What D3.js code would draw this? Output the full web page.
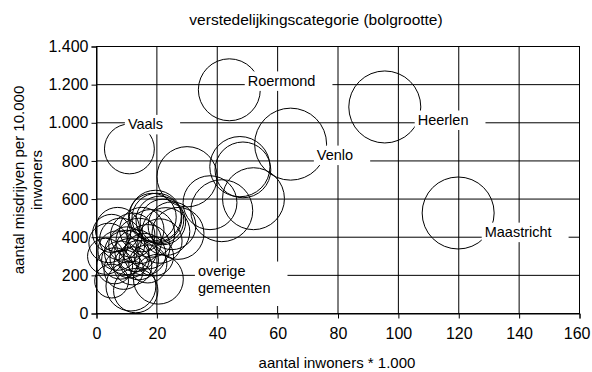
<!DOCTYPE html>
<html>
<head>
<meta charset="utf-8">
<script src="https://cdn.jsdelivr.net/npm/d3@7"></script>
<style>
  html, body { margin: 0; padding: 0; background: #fff; }
  svg { display: block; font-family: "Liberation Sans", Arial, sans-serif; }
</style>
</head>
<body>
<svg id="chart" width="592" height="372"></svg>
<script>
// Gemeenten: inwoners (x 1.000), misdrijven per 10.000 inwoners, bolgrootte
const inwoners = [
  119.8, 95.5, 64.3, 44.0, 10.9,
  47.5, 48.5, 52.0, 30.0, 37.6, 41.5,
  19.5, 20.0, 21.0, 18.5, 22.0,
  3, 4, 5, 6, 7, 7, 8, 8, 9, 10, 10, 11, 11.4, 12, 12, 13, 13, 14, 14, 15,
  16, 17, 17, 18, 20.5, 19, 21, 23, 5, 25, 27
];
const misdrijven = [
  527, 1083, 888, 1173, 863,
  770, 753, 602, 717, 581, 539,
  510, 500, 490, 505, 480,
  300, 370, 420, 250, 330, 440, 280, 390, 230, 320, 360, 290, 144, 410, 250, 330, 120, 280, 380, 440,
  310, 260, 350, 420, 180, 300, 380, 430, 170, 460, 420
];
const bolgrootte = [
  5, 5, 5, 3.7, 2.4,
  3.5, 3.0, 3.7, 3.5, 2.8, 3.7,
  2.6, 2.4, 2.2, 2.2, 2.0,
  1.25, 1.5, 1.4, 1.25, 1.5, 1.9, 1.4, 1.7, 1.5, 1.9, 1.25, 1.5, 2.4, 1.9, 1.4, 1.7, 1.9, 1.5, 2.0, 1.9,
  1.7, 1.4, 1.9, 2.2, 2.4, 1.5, 1.9, 2.2, 1.1, 2.2, 2.6
];

const xTicks = [0, 20, 40, 60, 80, 100, 120, 140, 160];
const yTicks = [0, 200, 400, 600, 800, 1000, 1200, 1400];

const labelTexts = [["Roermond"], ["Vaals"], ["Heerlen"], ["Venlo"], ["Maastricht"], ["overige", "gemeenten"]];
const labelAnchors = [[50.1, 1220], [10.4, 992], [106.4, 1015], [73, 831], [128.6, 427], [33.6, 223]];

const titleText = "verstedelijkingscategorie (bolgrootte)";
const xTitle = "aantal inwoners * 1.000";
const yTitle = ["aantal misdrijven per 10.000", "inwoners"];

const W = 592, H = 372;
const m = { left: 96.5, right: 12.5, top: 46.5, bottom: 58.5 };
const LABEL_FONT = 14.5;
const TICK_FONT = 16;
const TITLE_FONT = 15.5;
const AXIS_TITLE_FONT = 15;

const svg = d3.select("#chart");
const x = d3.scaleLinear().domain([0, 160]).range([m.left, W - m.right]);
const y = d3.scaleLinear().domain([0, 1400]).range([H - m.bottom, m.top]);
const r = d3.scaleSqrt().domain([0, 5]).range([0, 36]);

const nl = d3.formatLocale({ decimal: ",", thousands: ".", grouping: [3], currency: ["€", ""] });
const fmt = nl.format(",");

// grid
const grid = svg.append("g").attr("stroke", "#000").attr("stroke-width", 1);
grid.selectAll("line.v").data(xTicks).join("line")
  .attr("x1", d => x(d)).attr("x2", d => x(d))
  .attr("y1", y(0)).attr("y2", y(1400));
grid.selectAll("line.h").data(yTicks).join("line")
  .attr("x1", x(0)).attr("x2", x(160))
  .attr("y1", d => y(d)).attr("y2", d => y(d));
svg.append("rect")
  .attr("x", x(0)).attr("y", y(1400))
  .attr("width", x(160) - x(0)).attr("height", y(0) - y(1400))
  .attr("fill", "none").attr("stroke", "#000");

// bubbles
const points = inwoners.map((v, i) => ({ x: v, y: misdrijven[i], s: bolgrootte[i] }));
svg.append("g").selectAll("circle").data(points).join("circle")
  .attr("cx", d => x(d.x)).attr("cy", d => y(d.y)).attr("r", d => r(d.s))
  .attr("fill", "none").attr("stroke", "#000").attr("stroke-width", 1);

// labels with white backing
const lg = svg.append("g").attr("font-size", LABEL_FONT);
labelTexts.forEach((lines, i) => {
  const [ax, ay] = labelAnchors[i];
  const g = lg.append("g");
  const rect = g.append("rect").attr("fill", "#fff");
  const t = g.append("text").attr("x", x(ax)).attr("y", y(ay)).attr("fill", "#000");
  lines.forEach((ln, j) => {
    t.append("tspan").attr("x", x(ax)).attr("dy", j === 0 ? "0.35em" : "1.17em").text(ln);
  });
  const bb = t.node().getBBox();
  const extraBottom = lines.length > 1 ? 8 : 0;
  rect.attr("x", bb.x - 3).attr("y", bb.y - 1.5)
    .attr("width", bb.width + 20).attr("height", bb.height + 3.5 + extraBottom);
});

// axes
const xAxis = d3.axisBottom(x).tickValues(xTicks).tickSize(5).tickPadding(9).tickFormat(d3.format("d"));
const yAxis = d3.axisLeft(y).tickValues(yTicks).tickSize(5).tickPadding(3).tickFormat(fmt);
const gx = svg.append("g").attr("transform", `translate(0,${y(0)})`).call(xAxis);
const gy = svg.append("g").attr("transform", `translate(${x(0)},0)`).call(yAxis);
[gx, gy].forEach(g => {
  g.select(".domain").attr("stroke", "#000");
  g.selectAll(".tick line").attr("stroke", "#000");
  g.selectAll(".tick text").attr("fill", "#000").attr("font-size", TICK_FONT)
    .attr("font-family", "'Liberation Sans', Arial, sans-serif");
});
// keep the last x tick label inside the canvas
gx.selectAll(".tick text").filter(d => d === 160)
  .attr("text-anchor", "end").attr("x", W - 2 - x(160));

// titles
svg.append("text").attr("x", 316).attr("y", 25).attr("text-anchor", "middle")
  .attr("font-size", TITLE_FONT).text(titleText);
svg.append("text").attr("x", 337).attr("y", 368).attr("text-anchor", "middle")
  .attr("font-size", AXIS_TITLE_FONT).text(xTitle);
const yt = svg.append("text").attr("transform", `translate(24,${(y(0) + y(1400)) / 2}) rotate(-90)`)
  .attr("text-anchor", "middle").attr("font-size", AXIS_TITLE_FONT);
yTitle.forEach((ln, j) => yt.append("tspan").attr("x", 0).attr("dy", j === 0 ? 0 : "1.17em").text(ln));
</script>
</body>
</html>
